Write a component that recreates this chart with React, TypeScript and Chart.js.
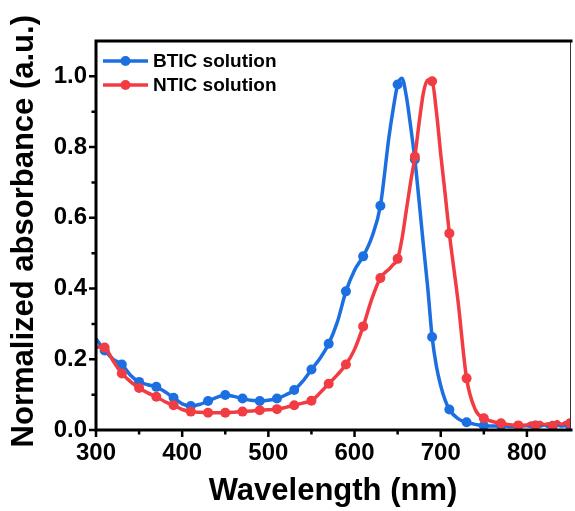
import { useEffect, useRef } from 'react';
import { Chart, registerables } from 'chart.js';

Chart.register(...registerables);

// Absorption spectra (normalized) of the two acceptors in solution.
const wavelengths = [
  300, 310, 320, 330, 340, 350, 360, 370, 380, 390, 400, 410, 420, 430, 440, 450, 460, 470, 480, 490,
  500, 510, 520, 530, 540, 550, 560, 570, 580, 590, 600, 610, 620, 630, 640, 645, 650, 655, 660, 665,
  670, 675, 680, 685, 690, 695, 700, 705, 710, 720, 730, 740, 750, 760, 770, 780, 790, 800, 805, 810,
  815, 820, 825, 830, 835, 840, 845, 850,
];

const bticAbs = [
  0.258, 0.225, 0.2, 0.185, 0.155, 0.136, 0.128, 0.122, 0.108, 0.091, 0.074, 0.068, 0.072, 0.082, 0.092, 0.099, 0.095, 0.089, 0.084, 0.082,
  0.084, 0.089, 0.099, 0.113, 0.138, 0.171, 0.203, 0.244, 0.305, 0.392, 0.452, 0.491, 0.545, 0.634, 0.83, 0.91, 0.977, 0.995, 0.945, 0.86,
  0.765, 0.645, 0.52, 0.4, 0.263, 0.18, 0.125, 0.085, 0.058, 0.032, 0.022, 0.016, 0.012, 0.011, 0.012, 0.01, 0.011, 0.012, 0.01, 0.013,
  0.011, 0.014, 0.01, 0.012, 0.015, 0.011, 0.013, 0.012,
];

const nticAbs = [
  0.235, 0.233, 0.195, 0.16, 0.137, 0.119, 0.105, 0.094, 0.08, 0.07, 0.058, 0.052, 0.05, 0.049, 0.049, 0.049, 0.05, 0.052, 0.054, 0.056,
  0.057, 0.059, 0.064, 0.07, 0.076, 0.083, 0.105, 0.131, 0.156, 0.185, 0.228, 0.293, 0.37, 0.43, 0.455, 0.468, 0.484, 0.54, 0.62, 0.7,
  0.773, 0.87, 0.955, 0.99, 0.986, 0.9, 0.78, 0.67, 0.556, 0.366, 0.146, 0.058, 0.033, 0.024, 0.019, 0.015, 0.013, 0.014, 0.02, 0.012,
  0.022, 0.015, 0.018, 0.011, 0.024, 0.016, 0.021, 0.019,
];

// Symbols are drawn every 20 nm along each spectrum.
const markerWavelengths = [
  310, 330, 350, 370, 390, 410, 430, 450, 470, 490, 510, 530, 550, 570, 590, 610, 630, 650, 670, 690,
  710, 730, 750, 770, 790, 810, 830, 850,
];

const seriesNames = ['BTIC solution', 'NTIC solution'];
const seriesColors = ['#1b6fe0', '#f03c42'];

const xTickValues = [300, 400, 500, 600, 700, 800];
const xMinorTickValues = [350, 450, 550, 650, 750];
const yTickValues = [0, 0.2, 0.4, 0.6, 0.8, 1.0];
const yMinorTickValues = [0.1, 0.3, 0.5, 0.7, 0.9];

const FONT = '"Liberation Sans", Arial, Helvetica, sans-serif';

const frameAndLegend = {
  id: 'frameAndLegend',
  afterDatasetsDraw(chart: any) {
    const { ctx, chartArea, scales } = chart;
    const { left, right, top, bottom } = chartArea;
    const x = scales.x;
    const y = scales.y;
    ctx.save();

    // thin right border
    ctx.strokeStyle = '#333';
    ctx.lineWidth = 1;
    ctx.beginPath();
    ctx.moveTo(right + 0.5, top);
    ctx.lineTo(right + 0.5, bottom);
    ctx.stroke();

    // heavy left / bottom / top axes
    ctx.strokeStyle = '#000';
    ctx.lineWidth = 3;
    ctx.lineCap = 'square';
    ctx.beginPath();
    ctx.moveTo(right + 1, top);
    ctx.lineTo(left, top);
    ctx.lineTo(left, bottom);
    ctx.lineTo(right + 1, bottom);
    ctx.stroke();

    // outward tick marks
    ctx.lineCap = 'butt';
    ctx.lineWidth = 2.5;
    ctx.beginPath();
    xTickValues.forEach((v) => {
      const px = x.getPixelForValue(v);
      ctx.moveTo(px, bottom);
      ctx.lineTo(px, bottom + 7);
    });
    xMinorTickValues.forEach((v) => {
      const px = x.getPixelForValue(v);
      ctx.moveTo(px, bottom);
      ctx.lineTo(px, bottom + 4.5);
    });
    yTickValues.forEach((v) => {
      const py = y.getPixelForValue(v);
      ctx.moveTo(left, py);
      ctx.lineTo(left - 7, py);
    });
    yMinorTickValues.forEach((v) => {
      const py = y.getPixelForValue(v);
      ctx.moveTo(left, py);
      ctx.lineTo(left - 4.5, py);
    });
    ctx.stroke();

    // legend
    ctx.font = `bold 19px ${FONT}`;
    ctx.textBaseline = 'middle';
    ctx.textAlign = 'left';
    seriesNames.forEach((name, i) => {
      const ly = 61 + i * 24;
      ctx.strokeStyle = seriesColors[i];
      ctx.fillStyle = seriesColors[i];
      ctx.lineWidth = 3.5;
      ctx.beginPath();
      ctx.moveTo(left + 7, ly);
      ctx.lineTo(left + 52, ly);
      ctx.stroke();
      ctx.beginPath();
      ctx.arc(left + 29.5, ly, 5, 0, Math.PI * 2);
      ctx.fill();
      ctx.fillStyle = '#000';
      ctx.fillText(name, left + 57, ly + 0.5);
    });

    ctx.restore();
  },
};

export default function App() {
  const canvasRef = useRef<HTMLCanvasElement | null>(null);

  useEffect(() => {
    document.body.style.margin = '0';
    const canvas = canvasRef.current;
    if (!canvas) return;

    const makeSeries = (values: number[], i: number, order: number) => ({
      label: seriesNames[i],
      data: wavelengths.map((w, k) => ({ x: w, y: values[k] })),
      borderColor: seriesColors[i],
      backgroundColor: seriesColors[i],
      pointBackgroundColor: seriesColors[i],
      pointBorderWidth: 0,
      borderWidth: 3.5,
      cubicInterpolationMode: 'monotone' as const,
      pointRadius: (c: any) => (markerWavelengths.includes(wavelengths[c.dataIndex]) ? 5 : 0),
      pointHoverRadius: 0,
      order,
    });

    const chart = new Chart(canvas, {
      type: 'line',
      data: {
        datasets: [makeSeries(bticAbs, 0, 1), makeSeries(nticAbs, 1, 0)],
      },
      options: {
        responsive: false,
        animation: false,
        devicePixelRatio: 1,
        layout: { padding: { top: 41, right: 1, left: 0, bottom: 0 } },
        plugins: { legend: { display: false }, tooltip: { enabled: false } },
        scales: {
          x: {
            type: 'linear',
            min: 300,
            max: 850,
            afterBuildTicks: (s: any) => {
              s.ticks = xTickValues.map((v) => ({ value: v }));
            },
            afterFit: (s: any) => {
              s.height = 81;
            },
            grid: { display: false, drawTicks: false },
            border: { display: false },
            ticks: {
              autoSkip: false,
              maxRotation: 0,
              padding: 9,
              color: '#000',
              font: { family: FONT, size: 24, weight: 'bold' },
            },
            title: {
              display: true,
              text: 'Wavelength (nm)',
              color: '#000',
              font: { family: FONT, size: 31, weight: 'bold' },
              padding: { top: 0, bottom: 1 },
            },
          },
          y: {
            type: 'linear',
            min: 0,
            max: 1.1,
            afterBuildTicks: (s: any) => {
              s.ticks = yTickValues.map((v) => ({ value: v }));
            },
            afterFit: (s: any) => {
              s.width = 96;
            },
            grid: { display: false, drawTicks: false },
            border: { display: false },
            ticks: {
              autoSkip: false,
              padding: 9,
              color: '#000',
              font: { family: FONT, size: 24, weight: 'bold' },
              callback: (v: any) => Number(v).toFixed(1),
            },
            title: {
              display: true,
              // leading space nudges the centred title slightly upward
              text: ' Normalized absorbance (a.u.)',
              color: '#000',
              font: { family: FONT, size: 31, weight: 'bold' },
              padding: { top: 6, bottom: 0 },
            },
          },
        },
      },
      plugins: [frameAndLegend],
    });

    return () => chart.destroy();
  }, []);

  return (
    <canvas
      ref={canvasRef}
      width={575}
      height={511}
      style={{ display: 'block', width: 575, height: 511 }}
    />
  );
}
